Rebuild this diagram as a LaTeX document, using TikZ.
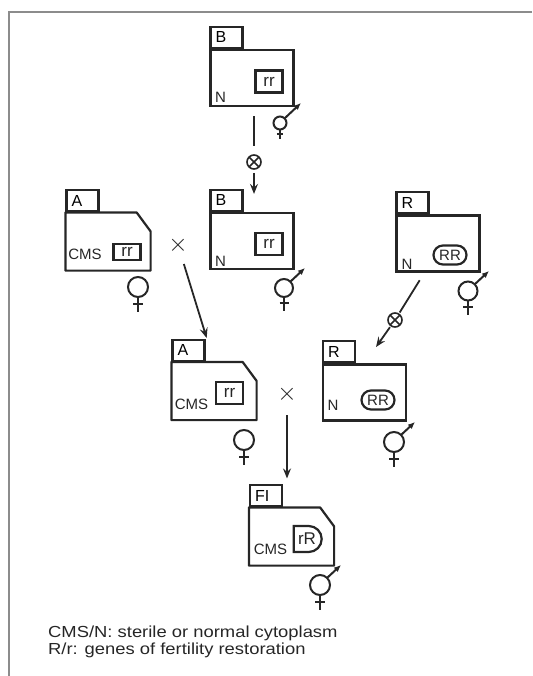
\documentclass[tikz,border=0pt]{standalone}
\usepackage{fontspec}
\setmainfont{Liberation Sans}
\newfontfamily\legendfont[FakeStretch=1.15]{Liberation Sans}
\usetikzlibrary{arrows.meta, shapes.misc, calc}

\colorlet{ink}{black!85}
\colorlet{rulegray}{black!45}

\tikzset{
  plant/.style={draw=ink, line width=2.2pt, minimum width=83pt, minimum height=56pt, inner sep=0pt},
  cutplant/.style={plant, draw=none},
  tabbox/.style={draw=ink, line width=2.2pt, anchor=south west, minimum height=18pt,
    text width=22pt, inner sep=5pt, align=left, font=\fontsize{16}{16}\selectfont},
  lbl/.style={text=ink, inner sep=0pt, font=\fontsize{15}{15}\selectfont},
  genebox/.style={lbl, font=\fontsize{17}{17}\selectfont, draw=ink, line width=2.6pt, minimum width=27pt, minimum height=22pt},
  restorerbox/.style={lbl, rounded rectangle, draw=ink, line width=2.2pt, minimum width=33pt, minimum height=19pt},
  hybridbox/.style={restorerbox, font=\fontsize{17}{17}\selectfont, rounded rectangle left arc=none, minimum width=28pt, minimum height=26pt},
  selfing/.style={circle, draw=ink, line width=1.6pt, minimum size=14pt, inner sep=0pt,
    path picture={\draw[ink, line width=1.6pt] (path picture bounding box.north west) -- (path picture bounding box.south east)
      (path picture bounding box.north east) -- (path picture bounding box.south west);}},
  crossing/.style={text=ink, inner sep=0pt, font=\fontsize{24}{24}\selectfont},
  link/.style={draw=ink, line width=1.8pt},
  sym/.style={draw=ink, line width=2pt}
}

\begin{document}
\begin{tikzpicture}[x=1pt, y=-1pt, >={Stealth[length=10pt, width=8pt, inset=3.5pt]}]
  \useasboundingbox (0,0) rectangle (532,676);
  % frame
  \draw[rulegray, line width=1.6pt] (532,12) -- (9,12) -- (9,676);

  % maintainer line B, selfed
  \node[plant] (B1) at (252,78) {};
  \node[tabbox] (B1t) at (B1.north west) {B};
  \node[genebox] (B1g) at (269,81.5) {rr};
  \node[lbl] (B1n) at (220.5,97) {N};

  \node[plant] (B2) at (252,241) {};
  \node[tabbox] (B2t) at (B2.north west) {B};
  \node[genebox] (B2g) at (269,244) {rr};
  \node[lbl] (B2n) at (220.5,261) {N};

  % sterile line A
  \node[cutplant] (A1) at (108,241.5) {};
  \node[tabbox] (A1t) at (A1.north west) {A};
  \node[genebox, minimum height=16pt] (A1g) at (127,252) {rr};
  \node[lbl] (A1c) at (85,254.5) {CMS};

  \node[cutplant] (A2) at (214,391) {};
  \node[tabbox] (A2t) at (A2.north west) {A};
  \node[genebox] (A2g) at (229.5,393) {rr};
  \node[lbl] (A2c) at (191.5,404.5) {CMS};

  % restorer line R
  \node[plant] (R1) at (438,243.5) {};
  \node[tabbox] (R1t) at (R1.north west) {R};
  \node[restorerbox] (R1g) at (450,255) {RR};
  \node[lbl] (R1n) at (407,264) {N};

  \node[plant] (R2) at (364.5,392.5) {};
  \node[tabbox] (R2t) at (R2.north west) {R};
  \node[restorerbox] (R2g) at (378,400) {RR};
  \node[lbl] (R2n) at (333,405) {N};

  % hybrid
  \node[cutplant] (F1) at (291.5,536.5) {};
  \node[tabbox] (F1t) at (F1.north west) {FI};
  \node[hybridbox] (F1g) at (307,539) {rR};
  \node[lbl] (F1c) at (270.5,549) {CMS};

  % cut corner of the CMS plants
  \foreach \p in {A1,A2,F1}
    \draw[ink, line width=2.2pt, line join=round] (\p.south west) |- ($(\p.north east)+(-14,0)$)
      -- ($(\p.north east)+(0,19)$) |- cycle;

  % selfing and crossing arrows
  \node[selfing] (self1) at (254,162) {};
  \draw[link, shorten <=9pt, shorten >=8pt] (B1.south -| self1) -- (self1);
  \draw[link, ->, shorten <=3pt, shorten >=18pt] (self1) -- (self1 |- B2.north);

  \node[selfing] (self2) at (395,320) {};
  \draw[link, shorten <=9pt, shorten >=1pt] (R1.245) -- (self2);
  \draw[link, ->, shorten <=1pt, shorten >=20pt] (self2) -- (R2.north);

  \node[crossing] (x1) at (178,245) {$\times$};
  \draw[link, ->, shorten <=11pt, shorten >=25pt] (x1) -- (A2.north);

  \node[crossing] (x2) at (287,394) {$\times$};
  \draw[link, ->, shorten <=13pt, shorten >=29pt] (x2) -- (x2 |- F1.north);

  % female parts
  \foreach \x/\y/\r in {138/287/10, 244/440/10, 280/123/6.5, 284/288/9, 468/291/9.5, 394/442/10, 320/585/10} {
    \draw[sym] (\x,\y) circle (\r pt);
    \draw[sym] (\x,\y+\r) -- ++(0,1.5*\r) (\x-0.5*\r,\y+1.65*\r) -- ++(\r,0);
  }
  % male parts
  \foreach \x/\y/\r in {280/123/6.5, 284/288/9, 468/291/9.5, 394/442/10, 320/585/10} {
    \draw[sym, -{Latex[length=7pt, width=6pt]}] (\x+0.71*\r,\y-0.71*\r) -- (\x+21,\y-20);
  }

  % legend
  \node[lbl, anchor=north west, align=left, font=\legendfont\fontsize{16}{17}\selectfont] (legend) at (48,626)
    {CMS/N: sterile or normal cytoplasm\\R/r: genes of fertility restoration};
\end{tikzpicture}
\end{document}
